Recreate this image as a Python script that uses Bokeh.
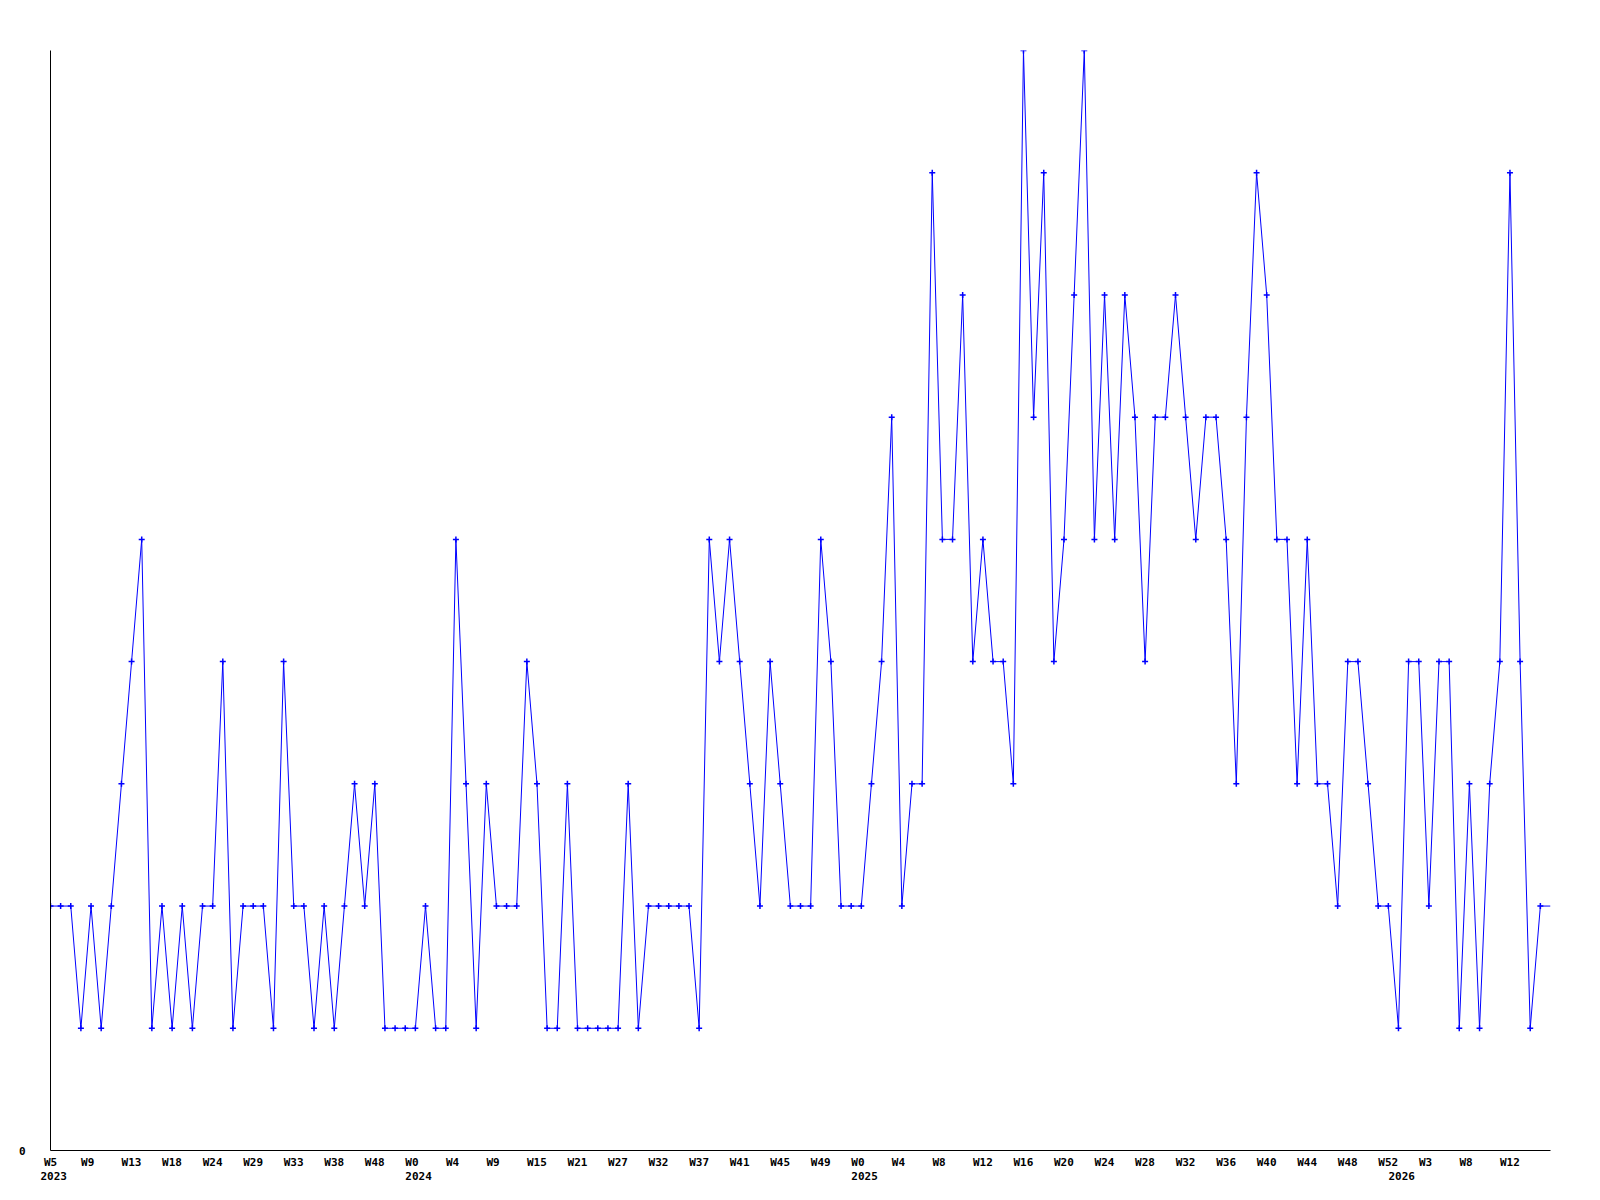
from bokeh.plotting import figure
from bokeh.models import Range1d, FixedTicker, ColumnDataSource, LinearAxis, CustomJSTickFormatter
from bokeh.embed import file_html
from bokeh.resources import INLINE

# weekly counts (last value is the open, unmarked end of the series)
values = [2, 2, 2, 1, 2, 1, 2, 3, 4, 5,
          1, 2, 1, 2, 1, 2, 2, 4, 1, 2,
          2, 2, 1, 4, 2, 2, 1, 2, 1, 2,
          3, 2, 3, 1, 1, 1, 1, 2, 1, 1,
          5, 3, 1, 3, 2, 2, 2, 4, 3, 1,
          1, 3, 1, 1, 1, 1, 1, 3, 1, 2,
          2, 2, 2, 2, 1, 5, 4, 5, 4, 3,
          2, 4, 3, 2, 2, 2, 5, 4, 2, 2,
          2, 3, 4, 6, 2, 3, 3, 8, 5, 5,
          7, 4, 5, 4, 4, 3, 9, 6, 8, 4,
          5, 7, 9, 5, 7, 5, 7, 6, 4, 6,
          6, 7, 6, 5, 6, 6, 5, 3, 6, 8,
          7, 5, 5, 3, 5, 3, 3, 2, 4, 4,
          3, 2, 2, 1, 4, 4, 2, 4, 4, 1,
          3, 1, 3, 4, 8, 4, 1, 2, 2]

week_labels = ["W5", "W9", "W13", "W18", "W24", "W29", "W33", "W38", "W48", "W0",
               "W4", "W9", "W15", "W21", "W27", "W32", "W37", "W41", "W45", "W49",
               "W0", "W4", "W8", "W12", "W16", "W20", "W24", "W28", "W32", "W36",
               "W40", "W44", "W48", "W52", "W3", "W8", "W12"]
week_label_step = 4

year_labels = ["2023", "2024", "2025", "2026"]
year_positions = [0, 36, 80, 133]

y_max = 9

x_idx = list(range(len(values)))
week_idx = [i * week_label_step for i in range(len(week_labels))]

FONT = "DejaVu Sans Mono"
BLUE = "#0000ff"
FRAME_W, FRAME_H = 1500, 1100
px_per_step = FRAME_W / (len(values) - 1)
char_w = 6.62      # advance of an 11px monospace glyph
lead = 10          # labels start this many pixels left of their point


def left_aligned(idx, text):
    # tick position whose centred label starts `lead` px left of the point
    return max(0.0, idx + (len(text) * char_w / 2 - lead) / px_per_step)


week_ticks = [left_aligned(i, t) for i, t in zip(week_idx, week_labels)]
year_ticks = [left_aligned(i, t) for i, t in zip(year_positions, year_labels)]

p = figure(frame_width=FRAME_W, frame_height=FRAME_H,
           min_border_left=50, min_border_top=50, min_border_right=42, min_border_bottom=50,
           x_range=Range1d(0, len(values) - 1), y_range=Range1d(0, y_max),
           output_backend="svg", toolbar_location=None,
           background_fill_color="white", border_fill_color="white")

p.xgrid.visible = False
p.ygrid.visible = False
p.outline_line_color = None


def style_axis(ax, standoff):
    ax.major_tick_in = 0
    ax.major_tick_out = 0
    ax.minor_tick_in = 0
    ax.minor_tick_out = 0
    ax.major_label_standoff = standoff
    ax.major_label_text_font = FONT
    ax.major_label_text_font_style = "bold"
    ax.major_label_text_font_size = "11px"
    ax.major_label_text_color = "black"
    ax.axis_line_width = 1


# y axis: only the zero label
p.yaxis.ticker = FixedTicker(ticks=[0])
style_axis(p.yaxis[0], 25)
p.yaxis.axis_line_color = "black"

lookup_code = """
const k = pos.findIndex(v => Math.abs(v - tick) < 1e-6);
return k >= 0 ? labels[k] : "";
"""

# x axis: week labels
xa = p.xaxis[0]
xa.ticker = FixedTicker(ticks=week_ticks)
xa.formatter = CustomJSTickFormatter(args=dict(pos=week_ticks, labels=week_labels), code=lookup_code)
style_axis(xa, 5)
xa.axis_line_color = "black"

# second row: years
ya = LinearAxis(ticker=FixedTicker(ticks=year_ticks),
                formatter=CustomJSTickFormatter(args=dict(pos=year_ticks, labels=year_labels), code=lookup_code))
style_axis(ya, 0)
ya.axis_line_color = None
p.add_layout(ya, "below")

src = ColumnDataSource(dict(x=x_idx, y=values))
p.line("x", "y", source=src, line_color=BLUE, line_width=1)

marker_src = ColumnDataSource(dict(x=x_idx[:-1], y=values[:-1]))
p.scatter("x", "y", source=marker_src, marker="cross", size=6,
          line_color=BLUE, line_width=1.5)

open("out.html", "w").write(file_html(p, INLINE))
